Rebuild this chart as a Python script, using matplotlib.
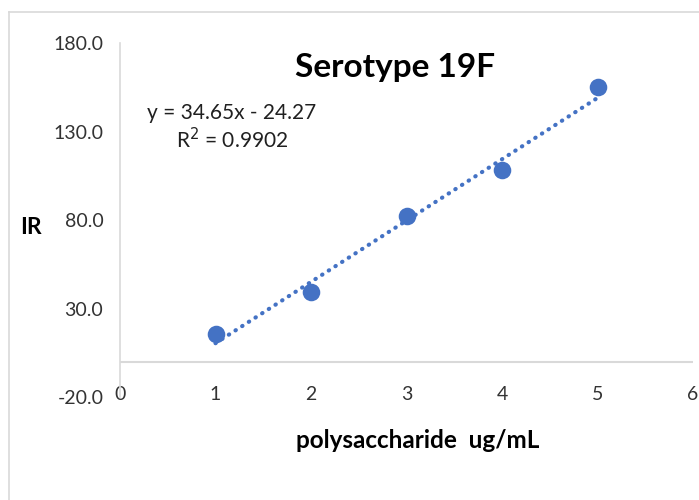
import numpy as np
import matplotlib
matplotlib.use('Agg')
import matplotlib.pyplot as plt
from matplotlib.lines import Line2D

plt.rcParams['font.family'] = ['Lato', 'DejaVu Sans']

conc = [1, 2, 3, 4, 5]
ir = [15.5, 39.5, 82.0, 108.0, 155.0]
slope = 34.65
intercept = -24.27
r2 = 0.9902
yticks = [-20, 30, 80, 130, 180]
xticks = [0, 1, 2, 3, 4, 5, 6]

blue = '#4472C4'
grey = '#d9d9d9'

fig = plt.figure(figsize=(6.99, 5.0), dpi=100)
ax = fig.add_axes([120 / 699, 1 - 397 / 500, 573 / 699, 354 / 500])

# outer chart border (only top and left visible)
fig.add_artist(Line2D([9 / 699, 9 / 699], [0, 1 - 12 / 500], color=grey, lw=1.2))
fig.add_artist(Line2D([9 / 699, 1], [1 - 12 / 500, 1 - 12 / 500], color=grey, lw=1.2))

xs = np.array([conc[0], conc[-1]], dtype=float)
ax.plot(xs, slope * xs + intercept, color=blue, lw=3, linestyle=(0, (0.1, 1.8)),
        dash_capstyle='round', zorder=2)
ax.scatter(conc, ir, s=160, color=blue, zorder=3, linewidths=0)

ax.set_xlim(0, 6)
ax.set_ylim(-20, 180)
ax.set_xticks(xticks)
ax.set_yticks(yticks)
ax.set_yticklabels([f'{v:.1f}' for v in yticks])

for side in ['top', 'right', 'bottom']:
    ax.spines[side].set_visible(False)
ax.spines['left'].set_color(grey)
ax.spines['left'].set_linewidth(1.2)
ax.axhline(0, color=grey, lw=1.5, zorder=1)

ax.tick_params(axis='both', length=0, labelsize=14, colors='#333333')
ax.tick_params(axis='x', pad=-8)
ax.tick_params(axis='y', pad=12)

fig.text(395 / 699, 1 - 68 / 500, 'Serotype 19F', fontsize=24, fontweight='bold',
         ha='center', va='center')
ax.text(0.195, 0.76, f'y = {slope}x - {abs(intercept)}\nR$^2$ = {r2}',
        transform=ax.transAxes, ha='center', va='center', fontsize=15,
        linespacing=1.2, color='#202020')

fig.text(31 / 699, 1 - 228 / 500, 'IR', fontsize=16.5, fontweight='bold',
         ha='center', va='center')
fig.text(418 / 699, 1 - 440 / 500, 'polysaccharide  ug/mL', fontsize=17.5,
         fontweight='bold', ha='center', va='center')

fig.savefig('out.png', dpi=100)
